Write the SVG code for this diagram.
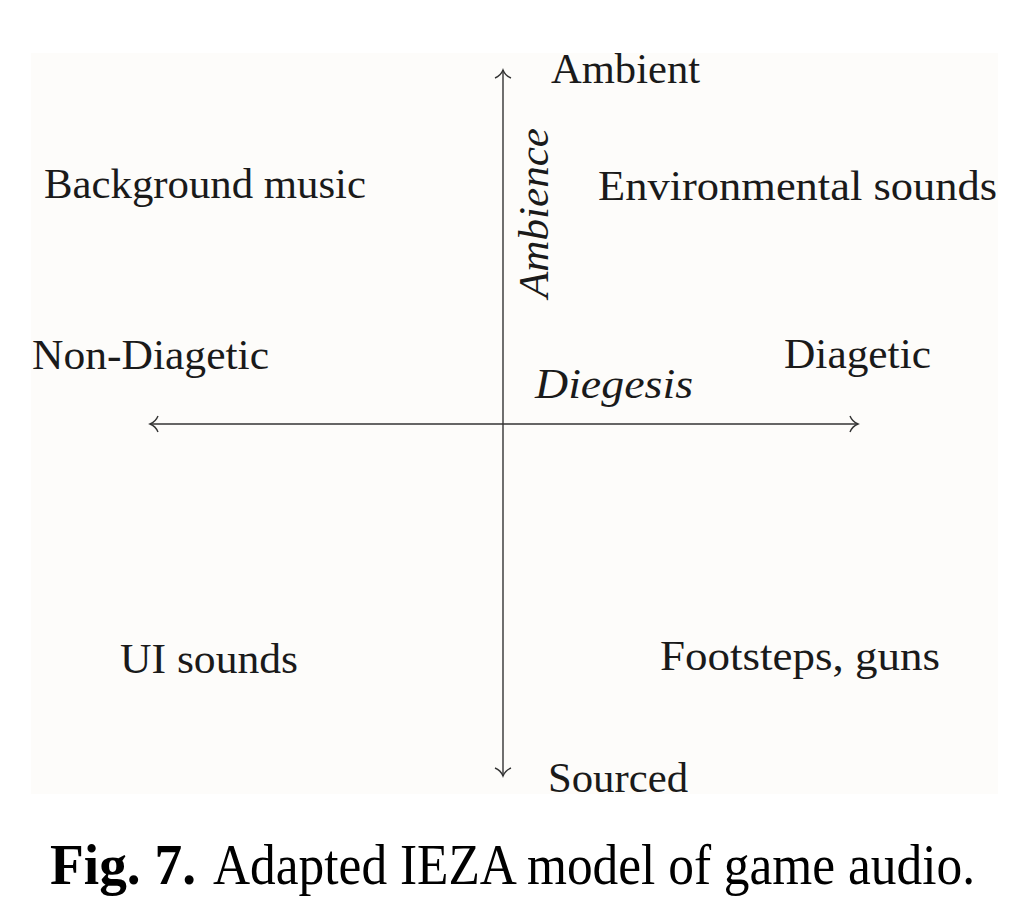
<svg xmlns="http://www.w3.org/2000/svg" width="1031" height="909" viewBox="0 0 1031 909">
<style>
.lbl{font-family:"Liberation Serif","DejaVu Serif",serif;font-size:42px;fill:#1a1a1a}
.it{font-style:italic}
.ax{stroke:#333;stroke-width:1.4;fill:none}
.cap{font-family:"Liberation Serif","DejaVu Serif",serif;font-size:57px;fill:#000}
</style>
<defs>
<marker id="arr" markerUnits="userSpaceOnUse" markerWidth="20" markerHeight="20" viewBox="-10 -10 20 20" refX="0" refY="0" orient="auto">
<path d="M-8,-8 C-6,-3 -2,-0.8 0,0 C-2,0.8 -6,3 -8,8" fill="none" stroke="#333" stroke-width="1.4"/>
</marker>
</defs>
<rect x="0" y="0" width="1031" height="909" fill="#ffffff"/>
<rect x="31" y="53" width="967" height="741" fill="#fdfcfa"/>
<g id="connectors">
<line class="ax" x1="503" y1="424" x2="503" y2="70" marker-end="url(#arr)"/>
<line class="ax" x1="503" y1="424" x2="503" y2="776" marker-end="url(#arr)"/>
<line class="ax" x1="503" y1="424" x2="150" y2="424" marker-end="url(#arr)"/>
<line class="ax" x1="503" y1="424" x2="858" y2="424" marker-end="url(#arr)"/>
</g>
<g id="ambient"><text class="lbl" x="551" y="83" textLength="149" lengthAdjust="spacingAndGlyphs">Ambient</text></g>
<g id="sourced"><text class="lbl" x="548" y="792" textLength="140" lengthAdjust="spacingAndGlyphs">Sourced</text></g>
<g id="ambience"><text class="lbl it" transform="translate(548,298) rotate(-90)" x="0" y="0" textLength="170" lengthAdjust="spacingAndGlyphs">Ambience</text></g>
<g id="diegesis"><text class="lbl it" x="535" y="398" textLength="158" lengthAdjust="spacingAndGlyphs">Diegesis</text></g>
<g id="non-diagetic"><text class="lbl" x="32" y="369" textLength="237" lengthAdjust="spacingAndGlyphs">Non-Diagetic</text></g>
<g id="diagetic"><text class="lbl" x="784" y="368" textLength="147" lengthAdjust="spacingAndGlyphs">Diagetic</text></g>
<g id="background-music"><text class="lbl" x="44" y="198" textLength="322" lengthAdjust="spacingAndGlyphs">Background music</text></g>
<g id="environmental-sounds"><text class="lbl" x="598" y="200" textLength="399" lengthAdjust="spacingAndGlyphs">Environmental sounds</text></g>
<g id="ui-sounds"><text class="lbl" x="120" y="673" textLength="178" lengthAdjust="spacingAndGlyphs">UI sounds</text></g>
<g id="footsteps-guns"><text class="lbl" x="660" y="670" textLength="280" lengthAdjust="spacingAndGlyphs">Footsteps, guns</text></g>
<g id="caption">
<text class="cap" x="50" y="884" font-weight="bold" textLength="146" lengthAdjust="spacingAndGlyphs">Fig. 7.</text>
<text class="cap" x="213" y="884" textLength="762" lengthAdjust="spacingAndGlyphs">Adapted IEZA model of game audio.</text>
</g>
</svg>
